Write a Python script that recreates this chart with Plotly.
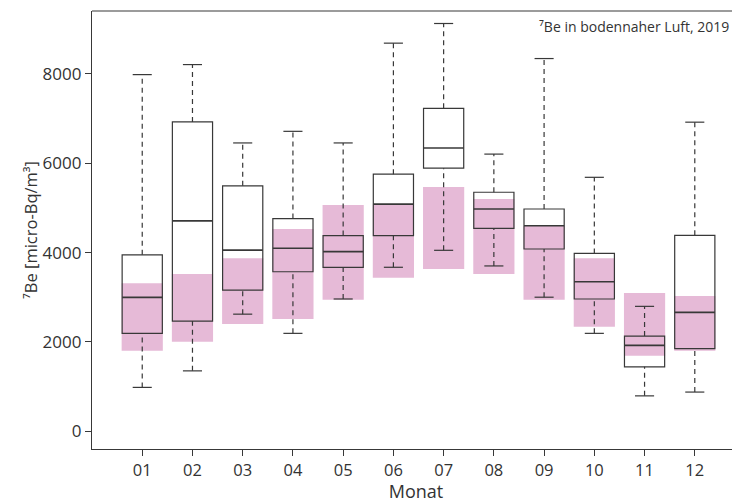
import plotly.graph_objects as go

months = [1, 2, 3, 4, 5, 6, 7, 8, 9, 10, 11, 12]
month_labels = ["01", "02", "03", "04", "05", "06", "07", "08", "09", "10", "11", "12"]

# 2019 box statistics (micro-Bq/m³)
whisker_low = [980, 1350, 2620, 2190, 2960, 3670, 4050, 3700, 3000, 2190, 790, 875]
q1 = [2190, 2465, 3160, 3570, 3670, 4380, 5890, 4540, 4080, 2960, 1440, 1850]
median = [2995, 4710, 4055, 4095, 4020, 5085, 6340, 4975, 4600, 3345, 1920, 2660]
q3 = [3950, 6925, 5495, 4760, 4380, 5755, 7230, 5350, 4975, 3980, 2130, 4385]
whisker_high = [7985, 8210, 6455, 6715, 6455, 8690, 9130, 6205, 8345, 5685, 2795, 6920]

# long-term reference range (pink)
ref_low = [1800, 2000, 2400, 2510, 2940, 3435, 3630, 3520, 2940, 2340, 1690, 1800]
ref_high = [3310, 3520, 3870, 4525, 5065, 5080, 5470, 5200, 4600, 3875, 3095, 3025]

line_col = "#383838"
pink = "#E6BAD7"
box_w = 0.8
cap_w = 0.38

fig = go.Figure()

fig.add_trace(go.Bar(
    x=months, y=[h - l for h, l in zip(ref_high, ref_low)], base=ref_low,
    width=0.82, marker=dict(color=pink, line=dict(width=0)), hoverinfo="skip"))

fig.add_trace(go.Bar(
    x=months, y=[h - l for h, l in zip(q3, q1)], base=q1,
    width=box_w, marker=dict(color="rgba(0,0,0,0)", line=dict(color=line_col, width=1.2)),
    hoverinfo="skip"))

wx, wy = [], []
for m, lo, a, b, hi in zip(months, whisker_low, q1, q3, whisker_high):
    wx += [m, m, None, m, m, None]
    wy += [b, hi, None, lo, a, None]
fig.add_trace(go.Scatter(x=wx, y=wy, mode="lines",
                         line=dict(color=line_col, width=1.2, dash="5px,4px"), hoverinfo="skip"))

cx, cy = [], []
for m, lo, hi in zip(months, whisker_low, whisker_high):
    cx += [m - cap_w / 2, m + cap_w / 2, None, m - cap_w / 2, m + cap_w / 2, None]
    cy += [hi, hi, None, lo, lo, None]
fig.add_trace(go.Scatter(x=cx, y=cy, mode="lines",
                         line=dict(color=line_col, width=1.2), hoverinfo="skip"))

mx, my = [], []
for m, md in zip(months, median):
    mx += [m - box_w / 2, m + box_w / 2, None]
    my += [md, md, None]
fig.add_trace(go.Scatter(x=mx, y=my, mode="lines",
                         line=dict(color=line_col, width=1.6), hoverinfo="skip"))

font_family = "Open Sans, Noto Sans, sans-serif"

fig.update_layout(
    width=732, height=495,
    margin=dict(l=84, r=0, t=3, b=54, autoexpand=False),
    paper_bgcolor="white", plot_bgcolor="white",
    barmode="overlay", showlegend=False,
    font=dict(family=font_family, size=16, color="#333333"),
    xaxis=dict(range=[0, 12.9], tickvals=months, ticktext=month_labels,
               showgrid=False, zeroline=False, showline=True, linecolor=line_col, linewidth=1.2,
               ticks="outside", ticklen=6, tickcolor=line_col, tickfont=dict(size=16.5),
               title=dict(text="Monat", font=dict(size=18), standoff=5)),
    yaxis=dict(range=[-400, 9410], tickvals=[0, 2000, 4000, 6000, 8000],
               showgrid=False, zeroline=False, showline=True, linecolor=line_col, linewidth=1.2,
               ticks="outside", ticklen=6, tickcolor=line_col, tickfont=dict(size=17),
               title=dict(text="⁷Be [micro-Bq/m³]", font=dict(size=16.5), standoff=0)),
    shapes=[dict(type="line", xref="paper", yref="paper", x0=0, x1=1, y0=1, y1=1,
                 line=dict(color=line_col, width=1.2))],
    annotations=[dict(text="⁷Be in bodennaher Luft, 2019", xref="paper", yref="paper",
                      x=0.986, y=0.992, xanchor="right", yanchor="top", showarrow=False,
                      font=dict(size=14, color="#333333"))],
)

fig.write_html("out.html")
